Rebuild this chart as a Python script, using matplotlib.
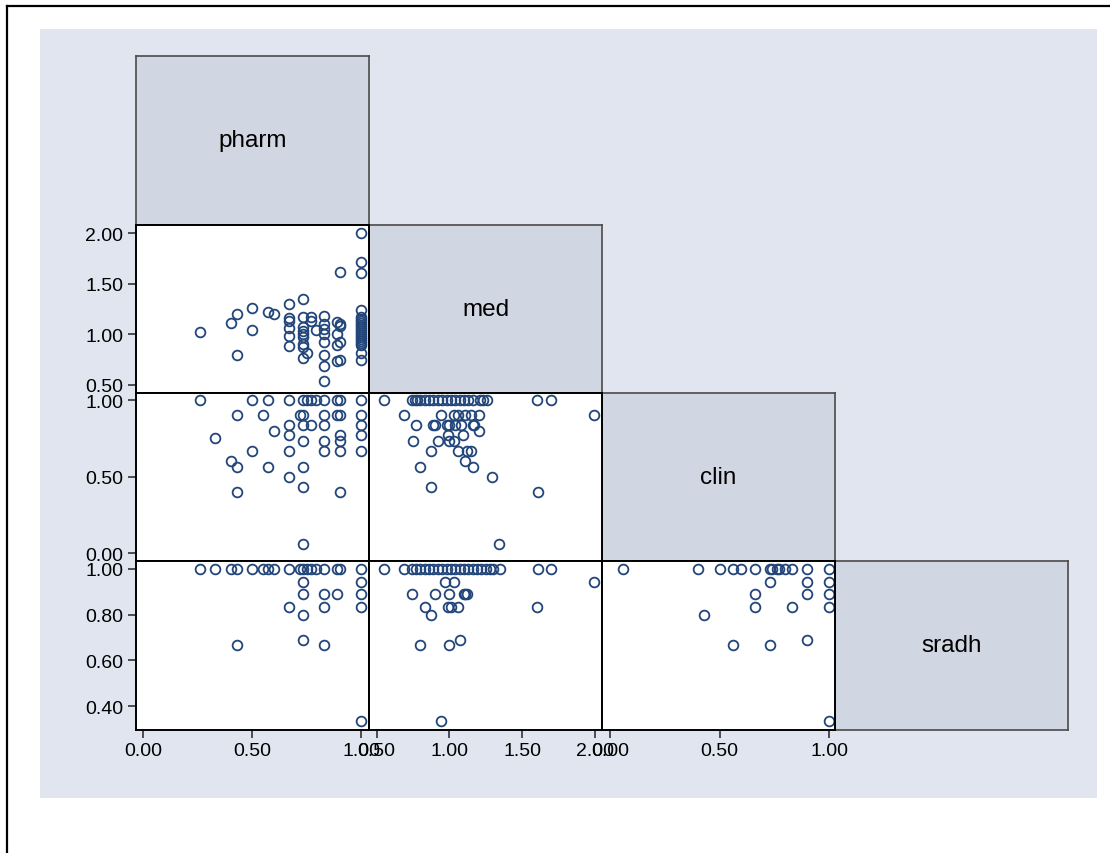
import matplotlib.pyplot as plt
from matplotlib.patches import Rectangle
from matplotlib.lines import Line2D

# variable names on the diagonal
names = ["pharm", "med", "clin", "sradh"]

# tick values per variable
pharm_ticks = [0.0, 0.5, 1.0]
med_ticks = [0.5, 1.0, 1.5, 2.0]
clin_ticks = [0.0, 0.5, 1.0]
sradh_ticks = [0.4, 0.6, 0.8, 1.0]

# axis ranges
pharm_lim = (-0.034, 1.035)
med_lim_x = (0.447, 2.048)
med_lim_y = (0.42, 2.08)
clin_lim_x = (-0.037, 1.027)
clin_lim_y = (-0.052, 1.046)
sradh_lim = (0.295, 1.035)

# pharm (x) vs med (y)
pharm_med_x = ([0.26, 0.40, 0.43, 0.43, 0.50, 0.50, 0.57, 0.60]
               + [0.67] * 6 + [0.73] * 9 + [0.77, 0.77, 0.75, 0.79]
               + [0.83] * 8 + [0.89, 0.90, 0.90, 0.89, 0.90, 0.89, 0.90, 0.89, 0.90]
               + [1.0] * 21)
pharm_med_y = ([1.02, 1.11, 1.20, 0.80, 1.26, 1.04, 1.22, 1.20]
               + [1.30, 1.16, 1.13, 1.06, 0.98, 0.88]
               + [1.35, 1.17, 1.07, 1.03, 1.00, 0.97, 0.90, 0.87, 0.77]
               + [1.17, 1.13, 0.82, 1.04]
               + [1.18, 1.10, 1.05, 1.00, 0.92, 0.80, 0.69, 0.54]
               + [1.12, 1.10, 1.08, 1.00, 0.92, 0.89, 0.75, 0.74, 1.62]
               + [2.00, 1.71, 1.61, 1.24, 1.17, 1.15, 1.13, 1.11, 1.09, 1.07, 1.05,
                  1.03, 1.01, 0.99, 0.97, 0.95, 0.93, 0.91, 0.89, 0.82, 0.75])

# pharm (x) vs clin (y)
pharm_clin_x = ([0.26, 0.50, 0.57, 0.67, 0.73, 0.75, 0.77, 0.79, 0.83, 0.89, 0.90, 1.0]
                + [0.43, 0.55, 0.72, 0.73, 0.83, 0.89, 0.90, 1.0]
                + [0.67, 0.73, 0.77, 0.83, 1.0]
                + [0.60] + [0.67, 0.90, 1.0] + [0.33] + [0.73, 0.83, 0.90]
                + [0.50, 0.67, 0.83, 0.90, 1.0] + [0.40] + [0.43, 0.57, 0.73]
                + [0.67] + [0.73] + [0.43, 0.90] + [0.73])
pharm_clin_y = ([1.0] * 12 + [0.90] * 8 + [0.84] * 5 + [0.80] + [0.77] * 3
                + [0.75] + [0.73] * 3 + [0.67] * 5 + [0.60] + [0.56] * 3
                + [0.50] + [0.43] + [0.40] * 2 + [0.06])

# med (x) vs clin (y)
med_clin_x = ([0.55, 0.74, 0.76, 0.78, 0.80, 0.83, 0.86, 0.89, 0.92, 0.95, 0.98, 1.01,
               1.04, 1.07, 1.10, 1.13, 1.16, 1.21, 1.23, 1.26, 1.60, 1.70]
              + [0.69, 0.94, 1.03, 1.06, 1.11, 1.15, 1.20, 1.99]
              + [0.77, 0.89, 0.90, 0.98, 1.00, 1.04, 1.08, 1.16, 1.17]
              + [1.20] + [0.99, 1.09] + [0.75, 0.92, 1.00, 1.03]
              + [0.87, 1.06, 1.12, 1.15] + [1.11] + [0.80, 1.16]
              + [1.29] + [0.87] + [1.61] + [1.34])
med_clin_y = ([1.0] * 22 + [0.90] * 8 + [0.84] * 9 + [0.80] + [0.77] * 2
              + [0.73] * 4 + [0.67] * 4 + [0.60] + [0.56] * 2
              + [0.50] + [0.43] + [0.40] + [0.06])

# pharm (x) vs sradh (y)
pharm_sradh_x = ([0.26, 0.33, 0.40, 0.43, 0.50, 0.55, 0.57, 0.60, 0.67, 0.72, 0.73,
                  0.75, 0.77, 0.79, 0.83, 0.89, 0.90, 1.0]
                 + [0.73, 1.0] + [0.73, 0.83, 0.89, 1.0] + [0.67, 0.83, 1.0]
                 + [0.73] + [0.73] + [0.43, 0.83] + [1.0])
pharm_sradh_y = ([1.0] * 18 + [0.944] * 2 + [0.889] * 4 + [0.835] * 3
                 + [0.80] + [0.69] + [0.667] * 2 + [0.333])

# med (x) vs sradh (y)
med_sradh_x = ([0.55, 0.69, 0.74, 0.77, 0.80, 0.83, 0.86, 0.89, 0.92, 0.95, 0.98, 1.01,
                1.04, 1.07, 1.10, 1.13, 1.16, 1.19, 1.22, 1.25, 1.28, 1.30, 1.35, 1.61, 1.70]
               + [0.97, 1.03, 1.99] + [0.74, 0.90, 1.00, 1.10, 1.11, 1.12]
               + [0.83, 0.99, 1.01, 1.06, 1.60] + [0.87] + [1.07] + [0.80, 1.00] + [0.94])
med_sradh_y = ([1.0] * 25 + [0.944] * 3 + [0.889] * 6 + [0.835] * 5
               + [0.80] + [0.69] + [0.667] * 2 + [0.333])

# clin (x) vs sradh (y)
clin_sradh_x = ([0.06, 0.40, 0.50, 0.56, 0.60, 0.66, 0.73, 0.74, 0.76, 0.77, 0.80, 0.83, 0.90, 1.0]
                + [0.73, 0.90, 1.0] + [0.66, 0.90, 1.0] + [0.66, 0.83, 1.0]
                + [0.43] + [0.90] + [0.56, 0.73] + [1.0])
clin_sradh_y = ([1.0] * 14 + [0.944] * 3 + [0.889] * 3 + [0.835] * 3
                + [0.80] + [0.69] + [0.667] * 2 + [0.333])

W, H = 1110, 854
col_edges = [136, 369, 602, 835, 1068]
row_edges = [57, 226, 394, 562, 731]

bg = "#e1e5ef"
diag_color = "#d1d7e2"
mark_color = "#22457a"
font = "Liberation Sans"

fig = plt.figure(figsize=(W / 100, H / 100), dpi=100)
fig.patch.set_facecolor("white")

# light plot region and outer border
fig.add_artist(Rectangle((40 / W, 1 - 799 / H), (1097 - 40) / W, (799 - 30) / H,
                         transform=fig.transFigure, facecolor=bg, edgecolor="none", zorder=0))
fig.add_artist(Line2D([7 / W, 7 / W], [0, 1 - 7 / H], transform=fig.transFigure, color="black", lw=1.6))
fig.add_artist(Line2D([7 / W, 1], [1 - 7 / H, 1 - 7 / H], transform=fig.transFigure, color="black", lw=1.6))


def cell(r, c):
    x0, x1 = col_edges[c], col_edges[c + 1]
    y0, y1 = row_edges[r], row_edges[r + 1]
    return fig.add_axes([x0 / W, 1 - y1 / H, (x1 - x0) / W, (y1 - y0) / H])


# diagonal name boxes
for i, name in enumerate(names):
    ax = cell(i, i)
    ax.set_facecolor(diag_color)
    ax.set_xticks([])
    ax.set_yticks([])
    for s in ax.spines.values():
        s.set_color("#4a4a4a")
        s.set_linewidth(1.2)
    ax.text(0.5, 0.5, name, ha="center", va="center", fontsize=17.5,
            family=font, transform=ax.transAxes)

panels = [
    (1, 0, pharm_med_x, pharm_med_y, pharm_lim, med_lim_y),
    (2, 0, pharm_clin_x, pharm_clin_y, pharm_lim, clin_lim_y),
    (2, 1, med_clin_x, med_clin_y, med_lim_x, clin_lim_y),
    (3, 0, pharm_sradh_x, pharm_sradh_y, pharm_lim, sradh_lim),
    (3, 1, med_sradh_x, med_sradh_y, med_lim_x, sradh_lim),
    (3, 2, clin_sradh_x, clin_sradh_y, clin_lim_x, sradh_lim),
]
y_ticks = {1: med_ticks, 2: clin_ticks, 3: sradh_ticks}
x_ticks = {0: pharm_ticks, 1: med_ticks, 2: clin_ticks}

for r, c, xs, ys, xl, yl in panels:
    ax = cell(r, c)
    ax.set_facecolor("white")
    ax.plot(xs, ys, "o", ms=7, mfc="none", mec=mark_color, mew=1.3, clip_on=False)
    ax.set_xlim(xl)
    ax.set_ylim(yl)
    for s in ax.spines.values():
        s.set_color("black")
        s.set_linewidth(1.4)
    if c == 0:
        ax.set_yticks(y_ticks[r])
        ax.set_yticklabels([f"{v:.2f}" for v in y_ticks[r]], family=font, fontsize=14)
    else:
        ax.set_yticks([])
    if r == 3:
        ax.set_xticks(x_ticks[c])
        ax.set_xticklabels([f"{v:.2f}" for v in x_ticks[c]], family=font, fontsize=14)
    else:
        ax.set_xticks([])
    ax.tick_params(length=6, width=1.2, color="#333333", pad=3)

fig.savefig("out.png", dpi=100)
